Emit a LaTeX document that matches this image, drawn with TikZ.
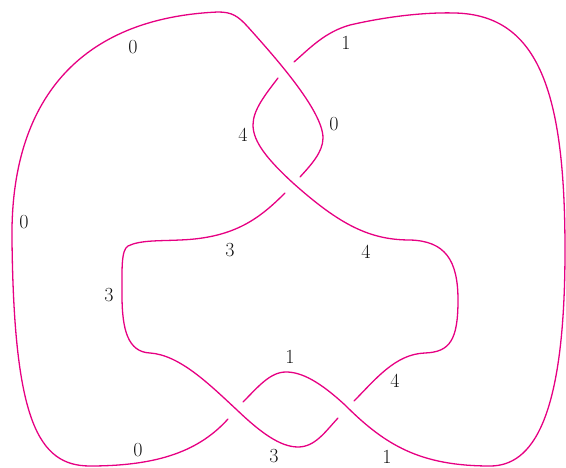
\documentclass[tikz,border=0pt]{standalone}
\definecolor{knot}{RGB}{230,0,130}
\definecolor{lab}{RGB}{20,20,20}
\begin{document}
\begin{tikzpicture}[x=1pt,y=-1pt,
  strand/.style={draw=knot,line width=1.3pt,line cap=round},
  lbl/.style={text=lab,font=\fontsize{20}{24}\selectfont,inner sep=0pt}]
\useasboundingbox (0,0) rectangle (566,468);
% arc 0
\draw[strand] (228,419) .. controls (200,450) and (160,466) .. (90,466)
  .. controls (38,466) and (14,420) .. (12,240)
  .. controls (10,100) and (80,18) .. (218,12)
  .. controls (232,12) and (238,16) .. (248,27)
  .. controls (272,54) and (323,110) .. (323,138)
  .. controls (323,152) and (311,165) .. (300,177);
% arc 1
\draw[strand] (294,62) .. controls (310,48) and (325,32) .. (350,25)
  .. controls (380,18) and (420,12) .. (455,13)
  .. controls (540,15) and (565,95) .. (565,250)
  .. controls (565,420) and (532,466) .. (490,466)
  .. controls (420,466) and (385,445) .. (345,405)
  .. controls (320,382) and (302,372) .. (286,372)
  .. controls (270,372) and (258,387) .. (243,402);
% arc 3
\draw[strand] (285,193) .. controls (260,218) and (235,238) .. (180,240)
  .. controls (160,241) and (140,240) .. (128,246)
  .. controls (121,250) and (122,270) .. (122,295)
  .. controls (122,330) and (128,352) .. (150,353)
  .. controls (180,355) and (210,385) .. (237,410)
  .. controls (260,432) and (280,447) .. (298,447)
  .. controls (315,447) and (325,432) .. (338,418);
% arc 4
\draw[strand] (354,401) .. controls (375,380) and (395,354) .. (425,353)
  .. controls (450,352) and (458,340) .. (458,300)
  .. controls (458,260) and (445,241) .. (410,240)
  .. controls (370,240) and (340,225) .. (293,183)
  .. controls (268,160) and (253,142) .. (253,125)
  .. controls (253,110) and (265,95) .. (278,78);
% labels
\node[lbl] (a0a) at (133,47) {0};
\node[lbl] (a0b) at (24,222) {0};
\node[lbl] (a0c) at (138,450) {0};
\node[lbl] (a0d) at (334,124) {0};
\node[lbl] (a1a) at (346,43) {1};
\node[lbl] (a1b) at (290,357) {1};
\node[lbl] (a1c) at (387,457) {1};
\node[lbl] (a3a) at (230,250) {3};
\node[lbl] (a3b) at (109,295) {3};
\node[lbl] (a3c) at (274,456) {3};
\node[lbl] (a4a) at (243,135) {4};
\node[lbl] (a4b) at (366,252) {4};
\node[lbl] (a4c) at (395,381) {4};
\end{tikzpicture}
\end{document}
